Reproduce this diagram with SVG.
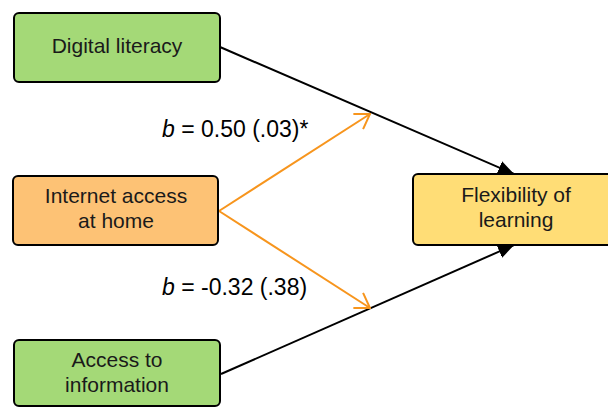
<svg xmlns="http://www.w3.org/2000/svg" width="608" height="408" viewBox="0 0 608 408">
  <defs>
    <style>
      .box { stroke: #000; stroke-width: 2; }
      .green { fill: #a4d977; }
      .orange { fill: #fdc275; }
      .yellow { fill: #ffdd76; }
      .label { font-family: "Liberation Sans", Arial, sans-serif; font-size: 21px; fill: #1a1a1a; text-anchor: middle; }
      .coef { font-family: "Liberation Sans", Arial, sans-serif; font-size: 23px; fill: #000; }
      .path-black { stroke: #000; stroke-width: 2; fill: none; }
      .path-orange { stroke: #f7951d; stroke-width: 2; fill: none; }
    </style>
    <marker id="solid" viewBox="0 0 16 14" refX="16" refY="7" markerWidth="16" markerHeight="14" markerUnits="userSpaceOnUse" orient="auto">
      <path d="M0,0 L16,7 L0,14 Z" fill="#000"/>
    </marker>
    <marker id="open" viewBox="0 0 16 20" refX="15" refY="10" markerWidth="16" markerHeight="20" markerUnits="userSpaceOnUse" orient="auto">
      <path d="M1,1 L15,10 L1,19" fill="none" stroke="#f7951d" stroke-width="2"/>
    </marker>
  </defs>

  <g id="connectors">
    <line class="path-black" x1="220" y1="47" x2="514" y2="174" marker-end="url(#solid)"/>
    <line class="path-black" x1="221" y1="374" x2="514" y2="245" marker-end="url(#solid)"/>
    <line class="path-orange" x1="219" y1="211" x2="370" y2="114" marker-end="url(#open)"/>
    <line class="path-orange" x1="219" y1="211" x2="370" y2="308" marker-end="url(#open)"/>
  </g>

  <g id="digital-literacy">
    <rect class="box green" x="14" y="13" width="206" height="69" rx="5"/>
    <text class="label" x="117" y="53">Digital literacy</text>
  </g>

  <g id="internet-access">
    <rect class="box orange" x="13" y="176" width="205" height="69" rx="5"/>
    <text class="label" x="116" y="203">Internet access</text>
    <text class="label" x="116" y="228">at home</text>
  </g>

  <g id="access-information">
    <rect class="box green" x="14" y="340" width="206" height="66" rx="5"/>
    <text class="label" x="117" y="367">Access to</text>
    <text class="label" x="117" y="392">information</text>
  </g>

  <g id="flexibility">
    <rect class="box yellow" x="413" y="174" width="208" height="71" rx="5"/>
    <text class="label" x="516" y="202">Flexibility of</text>
    <text class="label" x="516" y="227">learning</text>
  </g>

  <g id="coefficients">
    <text class="coef" x="162" y="137"><tspan font-style="italic">b</tspan> = 0.50 (.03)*</text>
    <text class="coef" x="162" y="295"><tspan font-style="italic">b</tspan> = -0.32 (.38)</text>
  </g>
</svg>
